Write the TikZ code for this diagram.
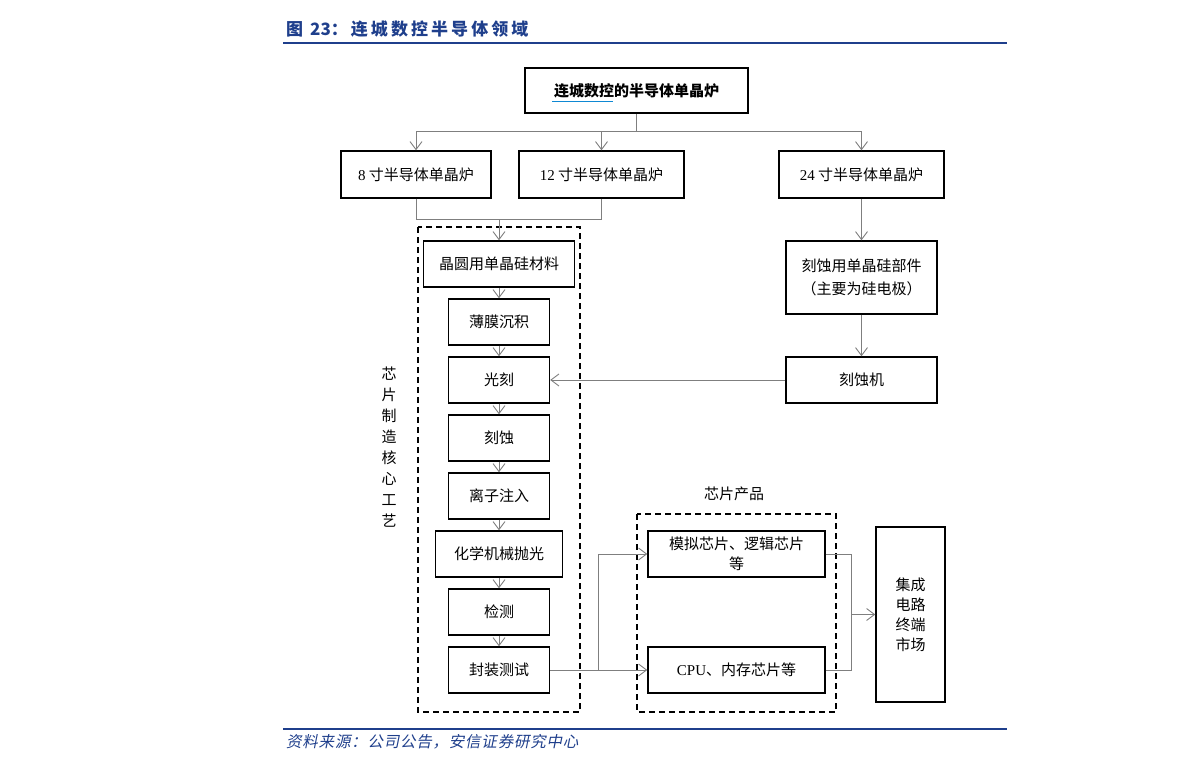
\documentclass[tikz,border=0pt]{standalone}
\usepackage{fontspec}
\setmainfont{Liberation Serif}
\newfontfamily\cjk{Noto Sans CJK SC}
\newfontfamily\cjkt{Noto Sans CJK SC}[LetterSpace=18]
\newfontfamily\cjkit{Noto Sans CJK SC}[FakeSlant=0.2,LetterSpace=5]
\usetikzlibrary{arrows.meta}
\definecolor{ttl}{HTML}{1F3F8C}
\definecolor{lgray}{HTML}{7F7F7F}
\begin{document}
\begin{tikzpicture}[x=1pt,y=-1pt,
  box/.style={draw=black,line width=1.4pt,fill=white,inner sep=2pt,font=\fontsize{15}{17}\selectfont\cjk,align=center},
  ln/.style={draw=lgray,line width=0.9pt},
  arr/.style={ln,-{Straight Barb[length=8pt,width=12pt,line width=0.9pt]}},
  dbox/.style={draw=black,line width=1.4pt,dash pattern=on 6pt off 4pt},
  lbl/.style={font=\fontsize{15}{21}\selectfont\cjk,align=center,inner sep=0pt}]
\useasboundingbox (0,0) rectangle (1191,769);
% title
\node[anchor=west,inner sep=0pt,text=ttl,font=\fontsize{17}{20}\selectfont\cjkt\bfseries] (title) at (286,29) {图 {\cjk\bfseries 23}：连城数控半导体领域};
\draw[ttl,line width=1.8pt] (283,43) -- (1007,43);
\draw[ttl,line width=1.8pt] (283,729) -- (1007,729);
\node[anchor=west,inner sep=0pt,text=ttl,font=\fontsize{15.5}{18}\selectfont\cjkit] (src) at (286,742) {资料来源：公司公告，安信证券研究中心};
% dashed groups
\draw[dbox] (418,227) rectangle (580,712);
\draw[dbox] (637,514) rectangle (836,712);
% boxes
\node[box,line width=1.8pt,minimum width=223pt,minimum height=45pt,font=\fontsize{15}{17}\selectfont\cjk\bfseries] (top) at (636.5,90.5) {连城数控的半导体单晶炉};
\draw[cyan!70!blue,line width=1pt] (552,101) -- (613,101);
\node[box,minimum width=150pt,minimum height=47pt] (b8) at (416,174.5) {{\rmfamily 8} 寸半导体单晶炉};
\node[box,minimum width=165pt,minimum height=47pt] (b12) at (601.5,174.5) {{\rmfamily 12} 寸半导体单晶炉};
\node[box,minimum width=165pt,minimum height=47pt] (b24) at (861.5,174.5) {{\rmfamily 24} 寸半导体单晶炉};
\node[box,minimum width=151pt,minimum height=46pt] (wafer) at (499,264) {晶圆用单晶硅材料};
\node[box,minimum width=101pt,minimum height=46pt] (film) at (499,322) {薄膜沉积};
\node[box,minimum width=101pt,minimum height=46pt] (litho) at (499,380) {光刻};
\node[box,minimum width=101pt,minimum height=46pt] (etch) at (499,438) {刻蚀};
\node[box,minimum width=101pt,minimum height=46pt] (ion) at (499,496) {离子注入};
\node[box,minimum width=127pt,minimum height=46pt] (cmp) at (499,554) {化学机械抛光};
\node[box,minimum width=101pt,minimum height=46pt] (insp) at (499,612) {检测};
\node[box,minimum width=101pt,minimum height=46pt] (pack) at (499,670) {封装测试};
\node[box,minimum width=151pt,minimum height=73pt,font=\fontsize{15}{23}\selectfont\cjk] (part) at (861.5,277.5) {刻蚀用单晶硅部件\\（主要为硅电极）};
\node[box,minimum width=151pt,minimum height=46pt] (etcher) at (861.5,380) {刻蚀机};
\node[box,minimum width=177pt,minimum height=46pt,font=\fontsize{15}{20}\selectfont\cjk] (analog) at (736.5,554) {模拟芯片、逻辑芯片\\等};
\node[box,minimum width=177pt,minimum height=46pt] (cpu) at (736.5,670) {{\rmfamily CPU}、内存芯片等};
\node[box,minimum width=69pt,minimum height=175pt,font=\fontsize{15}{20}\selectfont\cjk] (market) at (910.5,614.5) {集成\\电路\\终端\\市场};
% labels
\node[lbl] (core) at (389,447.5) {芯\\片\\制\\造\\核\\心\\工\\艺};
\node[lbl] (prod) at (734,494) {芯片产品};
% connectors
\coordinate (j1) at (636.5,131);
\draw[ln] (top) -- (j1);
\draw[arr] (j1) -| (b8);
\draw[arr] (j1) -| (b12);
\draw[arr] (j1) -| (b24);
\coordinate (j2) at (499,219);
\draw[ln] (b8.south) |- (j2);
\draw[ln] (b12.south) |- (j2);
\draw[arr] (j2) -- (wafer);
\draw[arr] (wafer) -- (film);
\draw[arr] (film) -- (litho);
\draw[arr] (litho) -- (etch);
\draw[arr] (etch) -- (ion);
\draw[arr] (ion) -- (cmp);
\draw[arr] (cmp) -- (insp);
\draw[arr] (insp) -- (pack);
\draw[arr] (b24) -- (part);
\draw[arr] (part) -- (etcher);
\draw[arr] (etcher) -- (litho);
\coordinate (j3) at (598,670);
\draw[arr] (pack) -- (cpu);
\draw[arr] (j3) |- (analog);
\coordinate (j4) at (851,614.5);
\draw[ln] (analog) -| (j4);
\draw[ln] (cpu) -| (j4);
\draw[arr] (j4) -- (market);
\end{tikzpicture}
\end{document}
